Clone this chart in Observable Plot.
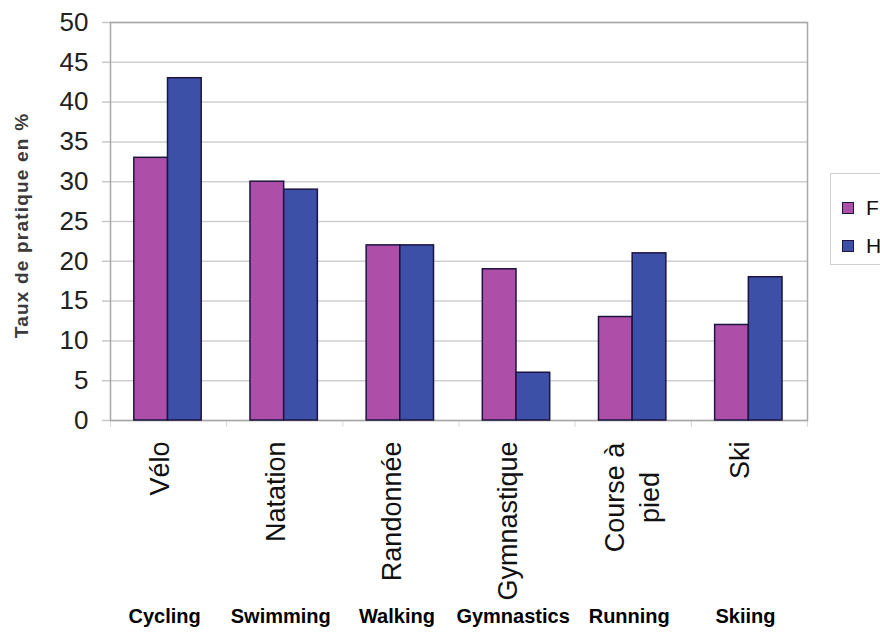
<!DOCTYPE html>
<html><head><meta charset="utf-8">
<script src="https://cdn.jsdelivr.net/npm/d3@7"></script>
<script src="https://cdn.jsdelivr.net/npm/@observablehq/plot@0.6"></script>
<style>
body{margin:0;background:#fff;font-family:"Liberation Sans",Arial,sans-serif;}
#wrap{position:relative;width:880px;height:636px;overflow:hidden;}
#legend{position:absolute;left:830px;top:173px;width:70px;height:92px;border:1px solid #d0d0d0;box-sizing:border-box;background:#fff;}
.item{position:absolute;left:11px;font-size:21px;line-height:22px;color:#111;white-space:nowrap;}
.sw{display:inline-block;width:10px;height:10px;border:1px solid #1d1440;margin-right:12px;vertical-align:1px;}
.ytitle text{letter-spacing:1.2px;}
</style></head>
<body><div id="wrap"><div id="chart"></div><div id="legend"></div></div>
<script>
const categories = ["Vélo", "Natation", "Randonnée", "Gymnastique", "Course à pied", "Ski"];
const englishLabels = ["Cycling", "Swimming", "Walking", "Gymnastics", "Running", "Skiing"];
const series = ["F", "H"];
const femmes = [33, 30, 22, 19, 13, 12];
const hommes = [43, 29, 22, 6, 21, 18];
const yTicks = [0, 5, 10, 15, 20, 25, 30, 35, 40, 45, 50];
const seriesColors = ["#ad4fa9", "#3b50a6"];
const yTitle = "Taux de pratique en %";

const rows = categories.flatMap((c, i) => [
  {i, cat: c, sexe: series[0], v: femmes[i]},
  {i, cat: c, sexe: series[1], v: hommes[i]}
]);
const labels = categories.map((c, i) => ({i, cat: c, en: englishLabels[i], multi: c.includes(" ")}));
const single = labels.filter(d => !d.multi);
const multi = labels.filter(d => d.multi).map(d => {
  const words = d.cat.split(" ");
  return {...d, text: words.slice(0, -1).join(" ") + "\n" + words[words.length - 1]};
});

const chart = Plot.plot({
  width: 880,
  height: 636,
  marginLeft: 110,
  marginRight: 73,
  marginTop: 22,
  marginBottom: 216,
  style: {fontFamily: "'Liberation Sans', Arial, sans-serif", background: "#fff"},
  x: {domain: [0, categories.length], axis: null},
  y: {domain: [0, 50], axis: null},
  color: {domain: series, range: seriesColors},
  marks: [
    Plot.gridY(yTicks, {stroke: "#cfcfcf", strokeOpacity: 1, strokeWidth: 1.5}),
    Plot.axisY(yTicks, {tickSize: 8, tickFormat: () => "", stroke: "#c8c8c8", strokeWidth: 1.5, label: null}),
    Plot.axisY(yTicks, {tickSize: 0, tickPadding: 22, fontSize: 26, fill: "#222", label: null}),
    Plot.axisX(d3.range(categories.length + 1), {tickSize: 7, tickFormat: () => "", stroke: "#d8d8d8", label: null}),
    Plot.frame({stroke: "#a8a8a8", strokeWidth: 1.5}),
    Plot.rectY(rows, {
      x1: d => d.i + (d.sexe === series[0] ? 0.205 : 0.495),
      x2: d => d.i + (d.sexe === series[0] ? 0.495 : 0.785),
      y: "v",
      fill: "sexe",
      stroke: "#1d1440",
      strokeWidth: 1.5
    }),
    Plot.text(single, {x: d => d.i + 0.5, text: "cat", frameAnchor: "bottom", dy: 21, rotate: -90, textAnchor: "end", fontSize: 27, fill: "#111"}),
    Plot.text(multi, {x: d => d.i + 0.5, text: "text", frameAnchor: "bottom", dx: -3, dy: 77, rotate: -90, textAnchor: "middle", lineAnchor: "middle", lineHeight: 1.3, fontSize: 27, fill: "#111"}),
    Plot.text(labels, {x: d => d.i + 0.5, text: "en", frameAnchor: "bottom", dy: 202, dx: -4, fontSize: 20, fontWeight: "bold", fill: "#000"}),
    Plot.text([yTitle], {frameAnchor: "left", dx: -89, dy: 4, rotate: -90, textAnchor: "middle", fontSize: 19, fontWeight: "bold", fill: "#3a3a3a", className: "ytitle"})
  ]
});
document.getElementById("chart").append(chart);

const legend = document.getElementById("legend");
series.forEach((s, k) => {
  const item = document.createElement("div");
  item.className = "item";
  item.style.top = (23 + k * 38) + "px";
  const sw = document.createElement("span");
  sw.className = "sw";
  sw.style.background = seriesColors[k];
  item.append(sw, document.createTextNode(s));
  legend.append(item);
});
</script>
</body></html>
